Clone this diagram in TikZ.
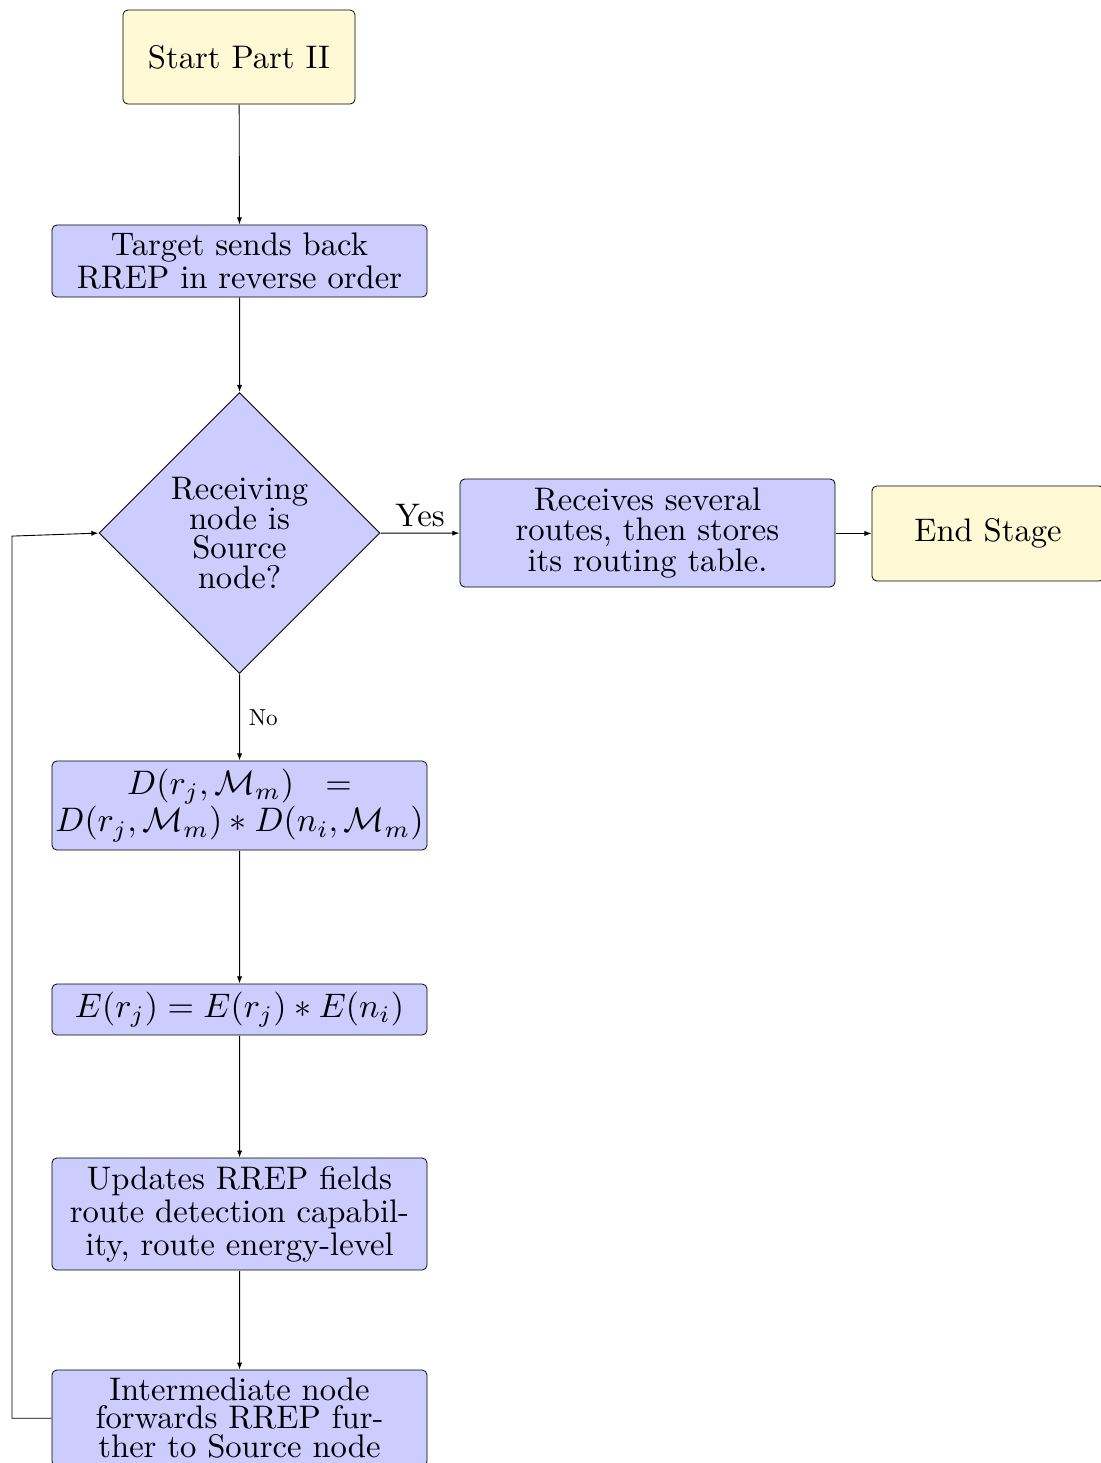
\documentclass[tikz,border=0pt]{standalone}
\usepackage{graphicx}
\usetikzlibrary{shapes.geometric,arrows.meta}
\definecolor{termfill}{RGB}{255,249,214}
\definecolor{boxfill}{RGB}{204,204,255}
\begin{document}
\begin{tikzpicture}[scale=1.7, x=0.2941pt, y=-0.2941pt,
  every node/.append style={transform shape},
  box/.style={draw, rounded corners=2.4pt, fill=boxfill, minimum width=110.29pt, inner sep=0pt, align=center, font=\fontsize{9.6}{9.7}\selectfont},
  term/.style={draw, rounded corners=2.4pt, fill=termfill, minimum width=68.24pt, minimum height=27.65pt, inner sep=0pt, align=center, font=\fontsize{9.6}{9.7}\selectfont},
  dec/.style={draw, diamond, aspect=1, fill=boxfill, minimum width=82.65pt, minimum height=82.65pt, inner sep=0pt, align=center, font=\fontsize{9.6}{8.8}\selectfont},
  arr/.style={-{Latex[length=3.5pt,width=2.6pt]}, line width=0.45pt}
]
\useasboundingbox (0,0) rectangle (1100,1463);
\node[term] (start) at (239,57) {Start Part II};
\node[box, minimum height=21.18pt] (target) at (239.5,261) {Target sends back\\RREP in reverse order};
\node[dec] (cond) at (239.5,533) {Receiving\\node is\\Source\\node?};
\node[box, minimum height=31.76pt, font=\fontsize{9.6}{9.1}\selectfont] (recv) at (647.5,533) {Receives several\\routes, then stores\\its routing table.};
\node[term, minimum height=27.94pt] (endst) at (988,533.5) {End Stage};
\node[box, minimum height=26.18pt, font=\fontsize{9.6}{10.9}\selectfont] (dbox) at (239.5,805.5) {$D(r_j,\mathcal{M}_m)\ \ =$\\$D(r_j,\mathcal{M}_m)*D(n_i,\mathcal{M}_m)$};
\node[box, minimum height=15pt] (ebox) at (239.5,1009.5) {$E(r_j)=E(r_j)*E(n_i)$};
\node[box, minimum height=32.94pt] (upd) at (239.5,1214) {Updates RREP fields\\route detection capabil-\\ity, route energy-level};
\node[box, minimum height=28.24pt, font=\fontsize{9.6}{8.4}\selectfont] (inter) at (239.5,1418) {Intermediate node\\forwards RREP fur-\\ther to Source node};
\coordinate (c1) at (12,1418);
\coordinate (c2) at (12,536);
\draw[arr] (start) -- (target);
\draw[arr] (target) -- (cond);
\draw[arr] (cond) -- node[above, inner sep=1.5pt, font=\fontsize{9.6}{12}\selectfont] (yes) {Yes} (recv);
\draw[arr] (recv) -- (endst);
\draw[arr] (cond) -- node[right, inner sep=2.5pt, font=\fontsize{9.6}{12}\selectfont] (no) {\scalebox{0.71}{No}} (dbox);
\draw[arr] (dbox) -- (ebox);
\draw[arr] (ebox) -- (upd);
\draw[arr] (upd) -- (inter);
\draw[arr] (inter.west) -- (c1) -- (c2) -- (cond.west);
\end{tikzpicture}
\end{document}
